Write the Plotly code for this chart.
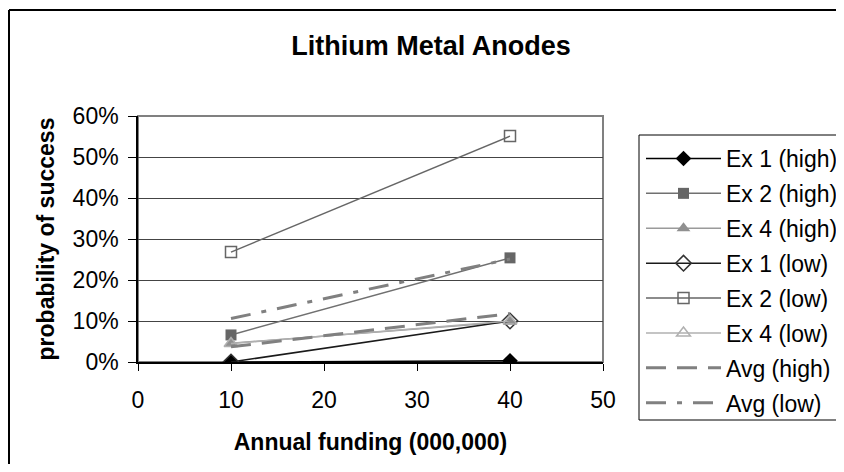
import plotly.graph_objects as go

funding = [10, 40]
series_names = ["Ex 1 (high)", "Ex 2 (high)", "Ex 4 (high)", "Ex 1 (low)",
                "Ex 2 (low)", "Ex 4 (low)", "Avg (high)", "Avg (low)"]
ex1_high = [0.000, 0.003]
ex2_high = [0.066, 0.254]
ex4_high = [0.046, 0.098]
ex1_low = [0.000, 0.100]
ex2_low = [0.268, 0.551]
ex4_low = [0.045, 0.100]
avg_high = [0.037, 0.118]
avg_low = [0.106, 0.251]

values = [ex1_high, ex2_high, ex4_high, ex1_low, ex2_low, ex4_low, avg_high, avg_low]

styles = [
    dict(line=dict(color="#000000", width=1.5),
         marker=dict(symbol="diamond", size=12, color="#000000")),
    dict(line=dict(color="#707070", width=1.5),
         marker=dict(symbol="square", size=11, color="#666666")),
    dict(line=dict(color="#9a9a9a", width=1.5),
         marker=dict(symbol="triangle-up", size=12, color="#909090")),
    dict(line=dict(color="#1a1a1a", width=1.5),
         marker=dict(symbol="diamond-open", size=12, color="#333333", line=dict(width=1.5))),
    dict(line=dict(color="#666666", width=1.5),
         marker=dict(symbol="square-open", size=11, color="#666666", line=dict(width=1.5))),
    dict(line=dict(color="#b0b0b0", width=1.5),
         marker=dict(symbol="triangle-up-open", size=12, color="#b0b0b0", line=dict(width=1.5))),
    dict(line=dict(color="#808080", width=3, dash="20px,11px"), mode="lines"),
    dict(line=dict(color="#808080", width=3, dash="20px,11px,5px,11px"), mode="lines"),
]

fig = go.Figure()
for i, (name, vals, st) in enumerate(zip(series_names, values, styles)):
    mode = st.pop("mode", "lines+markers")
    fig.add_trace(go.Scatter(x=funding, y=vals, name=name, mode=mode,
                             legendgroup=str(i), **st))

OFF = 8  # page body margin
FW, FH = 844 - 2 * OFF, 472 - 2 * OFF
L, T, W, H = 138 - OFF, 116 - OFF, 465, 246

def px_x(p):
    return (p - OFF - L) / W

def px_y(p):
    return (T + H - (p - OFF)) / H

FONT = "Liberation Sans, Arial, sans-serif"

def seg(x0, y0, x1, y1, color="#000000", width=1):
    return dict(type="line", xref="paper", yref="paper",
                x0=px_x(x0), y0=px_y(y0), x1=px_x(x1), y1=px_y(y1),
                line=dict(color=color, width=width))

fig.update_layout(
    width=FW, height=FH,
    margin=dict(l=L, r=FW - L - W, t=T, b=FH - T - H, pad=0, autoexpand=False),
    paper_bgcolor="white", plot_bgcolor="white",
    font=dict(family=FONT, size=23, color="#000000"),
    title=dict(text="<b>Lithium Metal Anodes</b>", x=(431 - OFF) / FW, xanchor="center",
               y=1 - (46 - OFF) / FH, yanchor="middle",
               font=dict(size=27, family=FONT)),
    showlegend=True,
    legend=dict(xref="container", yref="container",
                x=(641 - OFF) / FW, y=1 - (137 - OFF) / FH, xanchor="left", yanchor="top",
                bgcolor="rgba(0,0,0,0)", borderwidth=0, itemwidth=75,
                tracegroupgap=2, maxheight=400, font=dict(size=23)),
    xaxis=dict(range=[0, 50], dtick=10, tick0=0, showgrid=False, showline=True,
               linecolor="#000000", linewidth=1.5, ticks="outside", ticklen=7,
               tickcolor="#000000", zeroline=False, ticklabelstandoff=10,
               automargin=False,
               title=dict(text="<b>Annual funding (000,000)</b>", standoff=22,
                          font=dict(size=23))),
    yaxis=dict(range=[0, 0.6], dtick=0.1, tickformat=".0%", showgrid=True,
               gridcolor="#444444", gridwidth=1, showline=True, linecolor="#000000",
               linewidth=1.5, ticks="outside", ticklen=8, tickcolor="#000000",
               zeroline=False, ticklabelstandoff=5, automargin=False,
               title=dict(text="<b>probability of success</b>", standoff=12,
                          font=dict(size=23))),
    shapes=[
        dict(type="rect", xref="paper", yref="paper", x0=0, x1=1, y0=0, y1=1,
             line=dict(color="#808080", width=2), layer="below"),
        # legend box (open to the right, as in the cropped original)
        seg(639, 135, 900, 135),
        seg(639, 135, 639, 420),
        seg(639, 420, 900, 420),
        # outer chart border (top and left visible)
        seg(9, 10, 900, 10, width=2),
        seg(9, 10, 9, 520, width=2),
    ],
)

fig.write_html("out.html")
